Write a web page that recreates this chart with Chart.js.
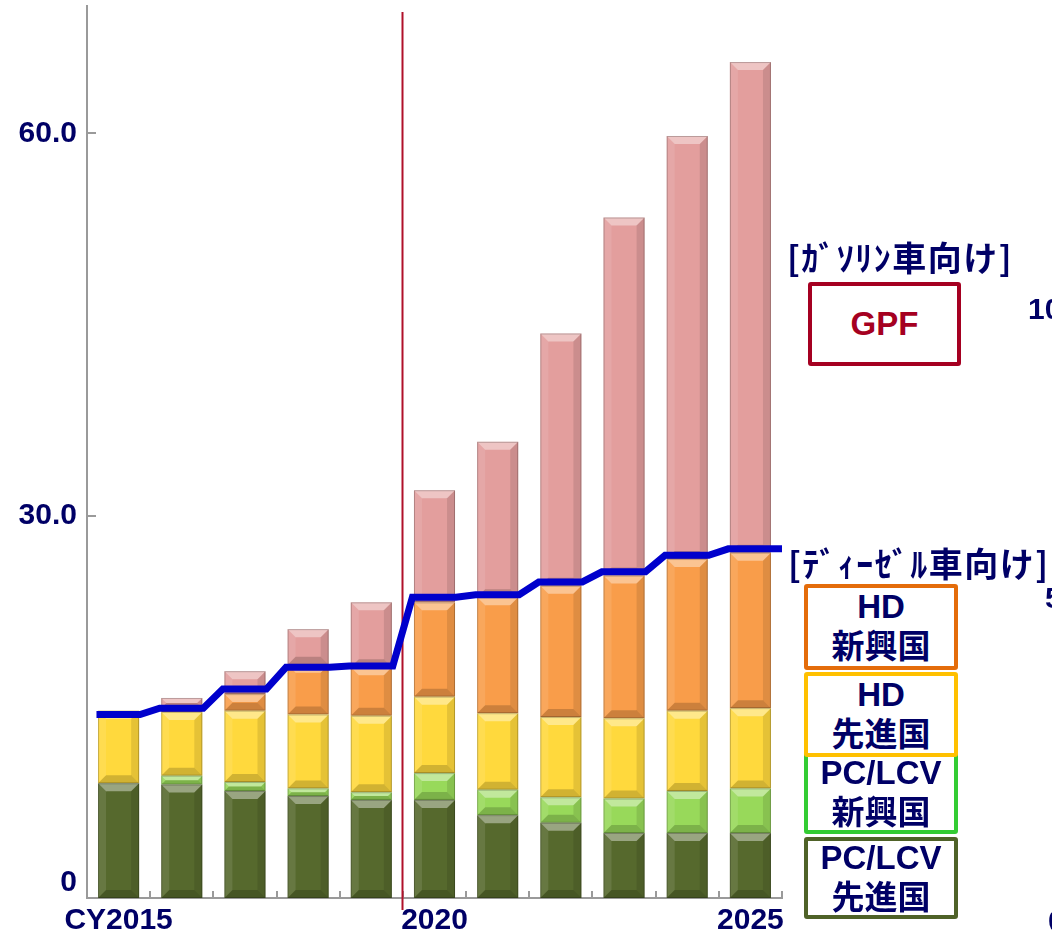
<!DOCTYPE html>
<html>
<head>
<meta charset="utf-8">
<script src="https://cdn.jsdelivr.net/npm/chart.js@4.4.1/dist/chart.umd.min.js"></script>
<style>
  html, body { margin: 0; padding: 0; background: #fff; }
  body { width: 1052px; height: 936px; position: relative; overflow: hidden; }
  #chart { position: absolute; left: 0; top: 0; }
  .lbl { position: absolute; white-space: nowrap; color: #000066; font-weight: bold;
         font-family: "Liberation Sans", Arial, "Noto Sans CJK JP", sans-serif; }
  .hdr { font-size: 34px; line-height: 38px; letter-spacing: 1.5px; font-family: "Noto Sans CJK JP", sans-serif; }
  .box { position: absolute; box-sizing: border-box; border: 4px solid; border-radius: 3px;
         background: #fff; display: flex; flex-direction: column; align-items: center; justify-content: center;
         color: #000066; font-weight: bold; font-size: 33px; line-height: 40px;
         font-family: "Liberation Sans", Arial, "Noto Sans CJK JP", sans-serif; }
  .ax { font-size: 30px; line-height: 34px; }
</style>
</head>
<body>
<canvas id="chart" width="1052" height="936"></canvas>

<div class="lbl hdr" style="left:787px; top:238px;">[ｶﾞｿﾘﾝ車向け]</div>
<div class="box" style="left:808px; top:282px; width:153px; height:84px; border-color:#A50021; color:#A50021;">GPF</div>

<div class="lbl hdr" style="left:788px; top:544px;">[ﾃﾞｨｰｾﾞﾙ車向け]</div>
<div class="box" style="left:804px; top:752px; width:154px; height:82px; border-color:#33CC33;"><div>PC/LCV</div><div>新興国</div></div>
<div class="box" style="left:804px; top:584px; width:154px; height:86px; border-color:#E46C0A;"><div>HD</div><div>新興国</div></div>
<div class="box" style="left:804px; top:672px; width:154px; height:85px; border-color:#FFC000;"><div>HD</div><div>先進国</div></div>
<div class="box" style="left:804px; top:837px; width:154px; height:82px; border-color:#4F6228;"><div>PC/LCV</div><div>先進国</div></div>

<div class="lbl ax" style="left:1028px; top:292px;">100</div>
<div class="lbl ax" style="left:1045px; top:581px;">50</div>
<div class="lbl ax" style="left:1048px; top:904px;">0</div>

<script>
// categories
const years = [2015, 2016, 2017, 2018, 2019, 2020, 2021, 2022, 2023, 2024, 2025];

// stacked segments (bottom to top)
const pcAdvanced = [9.0, 8.9, 8.4, 8.0, 7.7, 7.7, 6.5, 5.9, 5.1, 5.1, 5.1];
const pcEmerging = [0.0, 0.7, 0.7, 0.6, 0.6, 2.1, 2.0, 2.0, 2.7, 3.3, 3.5];
const hdAdvanced = [5.7, 5.0, 5.6, 5.8, 6.0, 6.0, 6.0, 6.3, 6.3, 6.3, 6.3];
const hdEmerging = [0.0, 0.3, 1.3, 3.9, 3.8, 7.4, 9.1, 10.3, 11.2, 11.9, 12.2];
const gpf        = [0.0, 0.8, 1.8, 2.8, 5.1, 8.8, 12.2, 19.8, 28.1, 33.2, 38.5];

// diesel total (blue step line)
const dieselLine = [14.4, 14.9, 16.4, 18.1, 18.2, 23.6, 23.8, 24.8, 25.6, 26.9, 27.4];

// y tick values
const yTicks = [0, 30, 60];

const navy = '#000066';
const axisGray = '#9A9A9A';

// flat run over each bar, sloped between bars
const linePoints = [];
dieselLine.forEach(function (v, i) {
    linePoints.push({ x: i - 0.35, y: v });
    linePoints.push({ x: i === dieselLine.length - 1 ? i + 0.5 : i + 0.34, y: v });
});

function barSet(label, data, color) {
    return {
        type: 'bar', label: label, data: data, backgroundColor: color,
        borderWidth: 0, categoryPercentage: 1, barPercentage: 0.65, grouped: false, stack: 's'
    };
}

// bevelled look on each bar segment
const bevel = {
    id: 'bevel',
    afterDatasetDraw(chart, args) {
        if (args.meta.type !== 'bar') return;
        const ctx = chart.ctx;
        args.meta.data.forEach(function (el) {
            const p = el.getProps(['x', 'y', 'base', 'width'], true);
            const l = p.x - p.width / 2, r = p.x + p.width / 2;
            const t = Math.min(p.y, p.base), b = Math.max(p.y, p.base);
            const h = b - t;
            if (h < 0.8) return;
            const d = Math.min(8, h / 2, p.width / 2);
            ctx.save();
            function poly(pts, fill) {
                ctx.beginPath();
                ctx.moveTo(pts[0][0], pts[0][1]);
                for (let k = 1; k < pts.length; k++) ctx.lineTo(pts[k][0], pts[k][1]);
                ctx.closePath();
                ctx.fillStyle = fill;
                ctx.fill();
            }
            poly([[l, t], [r, t], [r - d, t + d], [l + d, t + d]], 'rgba(255,255,255,0.40)');
            poly([[l, t], [l + d, t + d], [l + d, b - d], [l, b]], 'rgba(255,255,255,0.10)');
            poly([[r, t], [r, b], [r - d, b - d], [r - d, t + d]], 'rgba(0,0,0,0.10)');
            poly([[l, b], [r, b], [r - d, b - d], [l + d, b - d]], 'rgba(0,0,0,0.18)');
            ctx.strokeStyle = 'rgba(0,0,0,0.22)';
            ctx.lineWidth = 1;
            ctx.strokeRect(l + 0.5, t + 0.5, p.width - 1, h - 1);
            ctx.restore();
        });
    }
};

// red divider between 2019 and 2020, plus inside tick marks
const decor = {
    id: 'decor',
    beforeDatasetsDraw(chart) {
        const ctx = chart.ctx, x = chart.scales.x, y = chart.scales.y;
        const step = x.getPixelForValue(1) - x.getPixelForValue(0);
        ctx.save();
        ctx.strokeStyle = axisGray;
        ctx.lineWidth = 2;
        for (let i = 0; i < years.length; i++) {
            const px = Math.round(x.getPixelForValue(i) + step / 2);
            ctx.beginPath();
            ctx.moveTo(px, y.bottom);
            ctx.lineTo(px, y.bottom - 7);
            ctx.stroke();
        }
        yTicks.forEach(function (v) {
            if (v === 0) return;
            const py = Math.round(y.getPixelForValue(v));
            ctx.beginPath();
            ctx.moveTo(x.left, py);
            ctx.lineTo(x.left + 9, py);
            ctx.stroke();
        });
        const rx = Math.round(x.getPixelForValue(years.indexOf(2019)) + step / 2) - 0.5;
        ctx.strokeStyle = '#B0102A';
        ctx.lineWidth = 2;
        ctx.beginPath();
        ctx.moveTo(rx, 12);
        ctx.lineTo(rx, y.bottom + 12);
        ctx.stroke();
        ctx.restore();
    }
};

new Chart(document.getElementById('chart'), {
    type: 'bar',
    data: {
        labels: years,
        datasets: [
            barSet('PC/LCV 先進国', pcAdvanced, '#56692D'),
            barSet('PC/LCV 新興国', pcEmerging, '#98D95A'),
            barSet('HD 先進国', hdAdvanced, '#FFD93D'),
            barSet('HD 新興国', hdEmerging, '#F99D4A'),
            barSet('GPF', gpf, '#E39E9D'),
            {
                type: 'line', label: 'ディーゼル', data: linePoints,
                xAxisID: 'xl', yAxisID: 'yl', order: -1,
                borderColor: '#0000CC', borderWidth: 7, pointRadius: 0,
                tension: 0, fill: false, borderJoinStyle: 'miter'
            }
        ]
    },
    options: {
        responsive: false,
        animation: false,
        layout: { padding: { top: 6, right: 270, left: 0, bottom: 0 } },
        plugins: { legend: { display: false }, tooltip: { enabled: false } },
        scales: {
            x: {
                type: 'category', stacked: true, offset: true,
                grid: { display: false, drawTicks: false },
                border: { display: true, color: axisGray, width: 2 },
                afterFit(s) { s.height = 38; s.paddingLeft = 0; s.paddingRight = 0; },
                ticks: {
                    autoSkip: false, maxRotation: 0, padding: 5, color: navy,
                    font: { family: '"Liberation Sans", Arial, sans-serif', size: 30, weight: 'bold', lineHeight: 1.2 },
                    callback(v, i) {
                        const yr = years[i];
                        if (i === 0) return 'CY' + yr;
                        return yr % 5 === 0 ? String(yr) : '';
                    }
                }
            },
            xl: { type: 'linear', display: false, offset: false, grid: { offset: false },
                  min: -0.5, max: years.length - 0.5 },
            y: {
                stacked: true, min: 0, max: 70,
                grid: { display: false, drawTicks: false },
                border: { display: true, color: axisGray, width: 2 },
                afterFit(s) { s.width = 87; s.paddingTop = 0; s.paddingBottom = 0; },
                afterBuildTicks(s) { s.ticks = yTicks.map(function (v) { return { value: v }; }); },
                ticks: {
                    padding: 10, color: navy,
                    font: { family: '"Liberation Sans", Arial, sans-serif', size: 30, weight: 'bold', lineHeight: 1.0 },
                    callback(v) { return v === 0 ? ['0', ''] : v.toFixed(1); }
                }
            },
            yl: { display: false, min: 0, max: 70 }
        }
    },
    plugins: [decor, bevel]
});
</script>
</body>
</html>
